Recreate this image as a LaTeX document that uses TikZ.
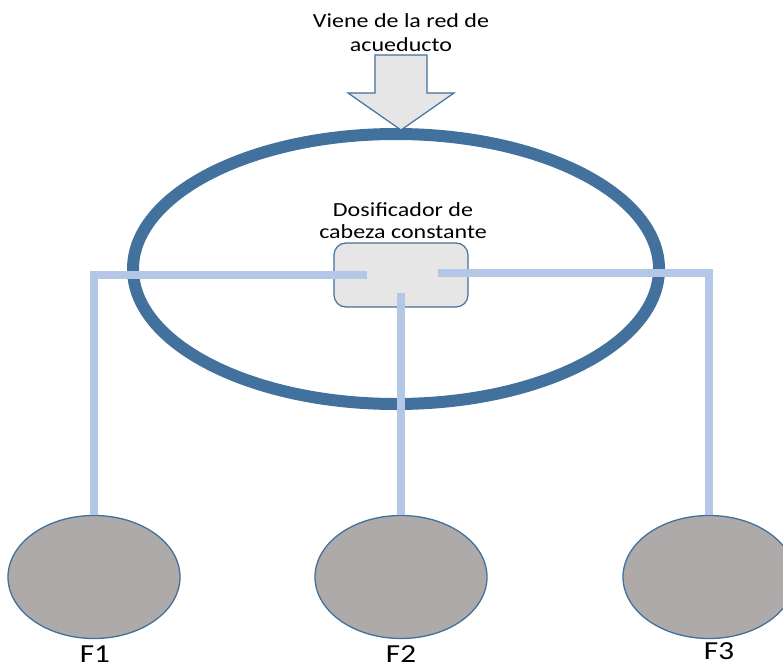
\documentclass[tikz,border=0pt]{standalone}
\usepackage{fontspec}
\setmainfont[FakeStretch=1.2]{Carlito}
\usetikzlibrary{shapes.geometric}
\definecolor{ringblue}{HTML}{41719C}
\definecolor{pipeblue}{HTML}{B4C7E7}
\definecolor{boxgray}{HTML}{E6E6E6}
\definecolor{tankgray}{HTML}{AEAAAA}
\definecolor{arrowgray}{HTML}{E7E6E6}
\begin{document}
\begin{tikzpicture}[x=1pt,y=-1pt,
 ring/.style={ellipse,draw=ringblue,line width=12pt,minimum width=526pt,minimum height=270pt,inner sep=0pt},
 doser/.style={draw=ringblue,fill=boxgray,rounded corners=12pt,line width=1.2pt,minimum width=134pt,minimum height=64pt,inner sep=0pt},
 tank/.style={ellipse,draw=ringblue,fill=tankgray,line width=1.3pt,minimum width=172pt,minimum height=123pt,inner sep=0pt},
 pipe/.style={draw=pipeblue,line width=8pt},
 inflow/.style={draw=ringblue,fill=arrowgray,line width=1.2pt,line join=miter},
 lbl/.style={font=\fontsize{20}{24}\selectfont,align=center,inner sep=0pt},
 flbl/.style={font=\fontsize{26}{30}\selectfont,inner sep=0pt,anchor=base}]
\useasboundingbox (0,0) rectangle (783,668);
\fill[white] (0,0) rectangle (783,668);
% ring
\node[ring] (ring) at (396,269) {};
% doser box
\node[doser] (doser) at (401,275) {};
% inflow arrow
\draw[inflow] (375,55) -- (427,55) -- (427,93) -- (454,93) -- (401,130) -- (348,93) -- (375,93) -- cycle;
% texts
\node[lbl] (src) at (401,33) {Viene de la red de\\acueducto};
\node[lbl,font=\fontsize{20}{22}\selectfont] (dlbl) at (403,221) {Dosificador de\\cabeza constante};
% tanks
\node[tank] (t1) at (94,577) {};
\node[tank] (t2) at (401,577) {};
\node[tank] (t3) at (709,577) {};
% pipes
\coordinate (l0) at (367,275);
\coordinate (r0) at (438,273);
\coordinate (m0) at (401,293);
\draw[pipe] (l0) -| (t1.north);
\draw[pipe] (r0) -| (t3.north);
\draw[pipe] (m0) -- (t2.north);
% labels
\node[flbl] (f1) at (95,662) {F1};
\node[flbl] (f2) at (401,662) {F2};
\node[flbl] (f3) at (719,659) {F3};
\end{tikzpicture}
\end{document}
